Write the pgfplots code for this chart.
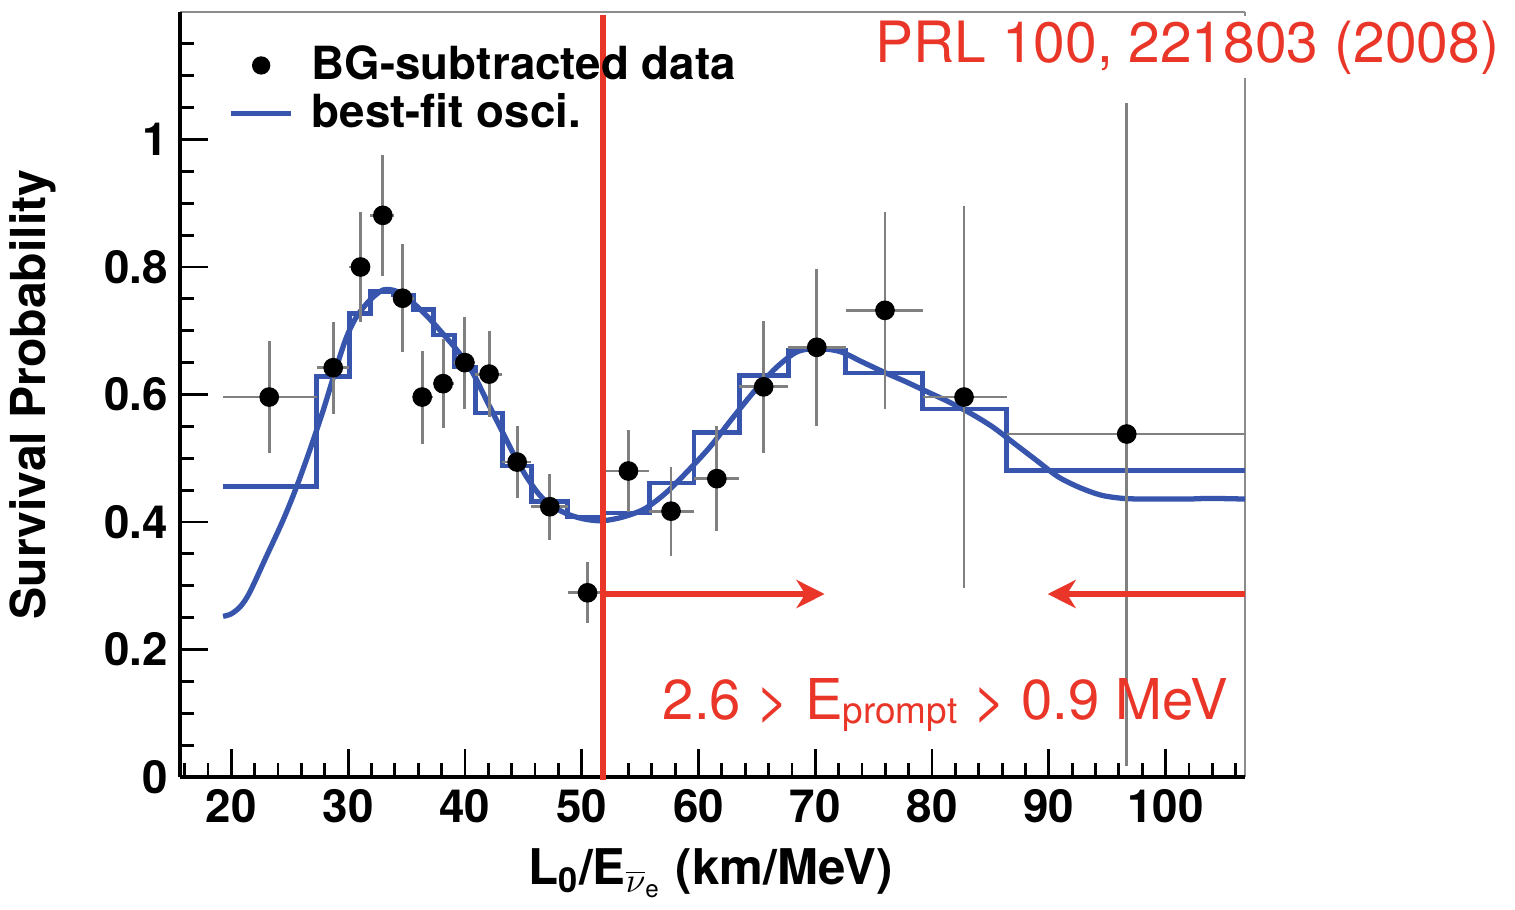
\documentclass[border=0pt]{standalone}
\usepackage{fontspec}
\setmainfont{TeX Gyre Heros}
\usepackage{pgfplots}
\pgfplotsset{compat=1.18}
\usepackage{pgfplotstable}
\usetikzlibrary{arrows.meta}
\definecolor{rootblue}{RGB}{55,85,172}
\definecolor{annred}{RGB}{234,54,40}
\definecolor{errgray}{RGB}{128,128,128}

\pgfplotstableread{
x y exm exp ey
23.24 0.596 3.94 4.06 0.088
28.72 0.642 1.42 1.38 0.072
31.06 0.800 0.96 0.84 0.086
32.97 0.881 1.07 0.93 0.095
34.66 0.751 0.76 0.94 0.085
36.34 0.596 0.74 0.96 0.073
38.13 0.617 0.83 0.97 0.070
39.99 0.650 0.89 0.91 0.072
42.07 0.632 1.17 1.13 0.068
44.47 0.494 1.27 1.23 0.057
47.27 0.424 1.57 1.53 0.052
50.50 0.289 1.70 1.40 0.048
54.00 0.480 2.10 1.80 0.065
57.65 0.417 1.85 1.95 0.070
61.57 0.468 1.97 1.93 0.082
65.58 0.612 2.08 2.12 0.104
70.13 0.674 2.43 2.47 0.123
75.97 0.732 3.37 3.23 0.155
82.74 0.596 3.54 3.66 0.300
96.67 0.538 10.27 10.13 0.520
}\datatable

\pgfplotstableread{
x y
19.3 0.456
27.3 0.628
30.1 0.727
31.9 0.762
33.9 0.756
35.6 0.733
37.3 0.693
39.1 0.643
40.9 0.571
43.2 0.488
45.7 0.432
48.8 0.408
51.9 0.414
55.8 0.461
59.6 0.540
63.5 0.630
67.7 0.670
72.6 0.634
79.2 0.577
86.4 0.481
106.8 0.481
}\histtable

\pgfplotstableread{
x y
19.29 0.252
20.00 0.256
20.80 0.268
21.58 0.290
23.00 0.346
24.43 0.403
25.58 0.455
26.72 0.513
27.86 0.575
29.00 0.643
29.86 0.690
30.72 0.722
31.86 0.748
33.00 0.764
34.14 0.762
35.28 0.748
36.70 0.724
38.13 0.695
39.56 0.664
40.70 0.633
41.85 0.591
43.00 0.549
44.13 0.508
45.27 0.471
46.41 0.442
47.55 0.424
48.98 0.411
50.41 0.404
51.83 0.402
53.56 0.408
55.42 0.421
57.29 0.447
59.14 0.481
61.00 0.518
62.87 0.562
64.73 0.604
66.59 0.641
68.45 0.667
70.31 0.672
72.17 0.667
74.03 0.651
75.89 0.635
77.76 0.620
79.62 0.604
81.48 0.588
83.34 0.570
85.20 0.549
87.06 0.523
88.92 0.497
90.79 0.471
92.65 0.454
94.50 0.442
96.37 0.437
98.23 0.436
100.10 0.436
101.95 0.436
103.80 0.437
106.80 0.436
}\curvetable

\begin{document}
\begin{tikzpicture}
\begin{axis}[
  at={(0,0)}, anchor=south west,
  scale only axis, width=10.65cm, height=7.65cm,
  xmin=15.6, xmax=106.8, ymin=0, ymax=1.2,
  clip=false,
  axis line style={draw=none},
  xtick={20,30,40,50,60,70,80,90,100},
  minor xtick={16,18,...,106},
  ytick={0,0.2,0.4,0.6,0.8,1},
  minor ytick={0.05,0.1,0.15,0.25,0.3,0.35,0.45,0.5,0.55,0.65,0.7,0.75,0.85,0.9,0.95,1.05,1.1,1.15},
  tick align=inside, xtick pos=left, ytick pos=left,
  major tick length=0.28cm, minor tick length=0.14cm,
  every tick/.style={black, line width=0.8pt},
  tick label style={font=\fontsize{13}{15}\selectfont\bfseries},
  /pgf/number format/assume math mode=true,
  xlabel={L\textsubscript{0}/E\textsubscript{$\overline{\nu}_{\mathrm{e}}$} (km/MeV)},
  xlabel style={at={(rel axis cs:0.498,-0.141)}, anchor=base, font=\fontsize{14}{16}\selectfont\bfseries},
  ylabel={Survival Probability},
  ylabel style={at={(rel axis cs:-0.138,0.5)}, anchor=center, font=\fontsize{13.7}{16}\selectfont\bfseries},
  legend cell align=left,
  legend style={at={(rel axis cs:0.035,0.975)}, anchor=north west, draw=none, fill=none,
    font=\fontsize{13}{15}\selectfont\bfseries, row sep=-1.5pt, column sep=0.11cm},
]
% frame
\draw[black!45, line width=0.6pt] (rel axis cs:0,1) -- (rel axis cs:1,1);
\draw[black!45, line width=0.6pt] (rel axis cs:1,0) -- (rel axis cs:1,1);
\draw[black, line width=0.9pt] (rel axis cs:0,0) -- (rel axis cs:0,1);
\draw[black, line width=1pt] (rel axis cs:0,0) -- (rel axis cs:1,0);

\addplot[const plot, rootblue, line width=1.3pt, forget plot] table[x=x,y=y]{\histtable};
\addplot[rootblue, line width=1.5pt, smooth, forget plot] table[x=x,y=y]{\curvetable};
\addplot[only marks, mark=*, mark size=2.6pt, black, forget plot,
  error bars/.cd, x dir=both, x explicit, y dir=both, y explicit, error mark=none,
  error bar style={errgray, line width=0.8pt}]
  table[x=x, y=y, x error plus=exp, x error minus=exm, y error=ey]{\datatable};

\addlegendimage{only marks, mark=*, mark size=2.4pt, black}
\addlegendentry{BG-subtracted data}
\addlegendimage{rootblue, line width=1.5pt}
\addlegendentry{best-fit osci.}

% red annotations
\draw[annred, line width=1.7pt] (axis cs:51.8,-0.005) -- (axis cs:51.8,1.195);
\draw[annred, line width=1.6pt, -{Stealth[length=8pt,width=8pt,inset=2.5pt]}] (axis cs:51.8,0.287) -- (axis cs:70.8,0.287);
\draw[annred, line width=1.6pt, -{Stealth[length=8pt,width=8pt,inset=2.5pt]}] (axis cs:106.8,0.287) -- (axis cs:89.9,0.287);
\node[anchor=base west, inner sep=0pt, text=annred, font=\fontsize{16}{18}\selectfont] at (axis cs:56.9,0.09)
  {2.6 > E\raisebox{-1pt}{\fontsize{10.5}{12}\selectfont prompt} > 0.9 MeV};
\fill[white] (axis cs:74.24,1.097) rectangle (axis cs:130,1.193);
\node[anchor=base west, inner sep=0pt, text=annred, font=\fontsize{16.2}{18}\selectfont] at (axis cs:75.1,1.120)
  {PRL 100, 221803 (2008)};
\end{axis}
\pgfresetboundingbox
\useasboundingbox (-1.80cm,-1.32cm) rectangle (13.35cm,7.77cm);
\end{tikzpicture}
\end{document}
